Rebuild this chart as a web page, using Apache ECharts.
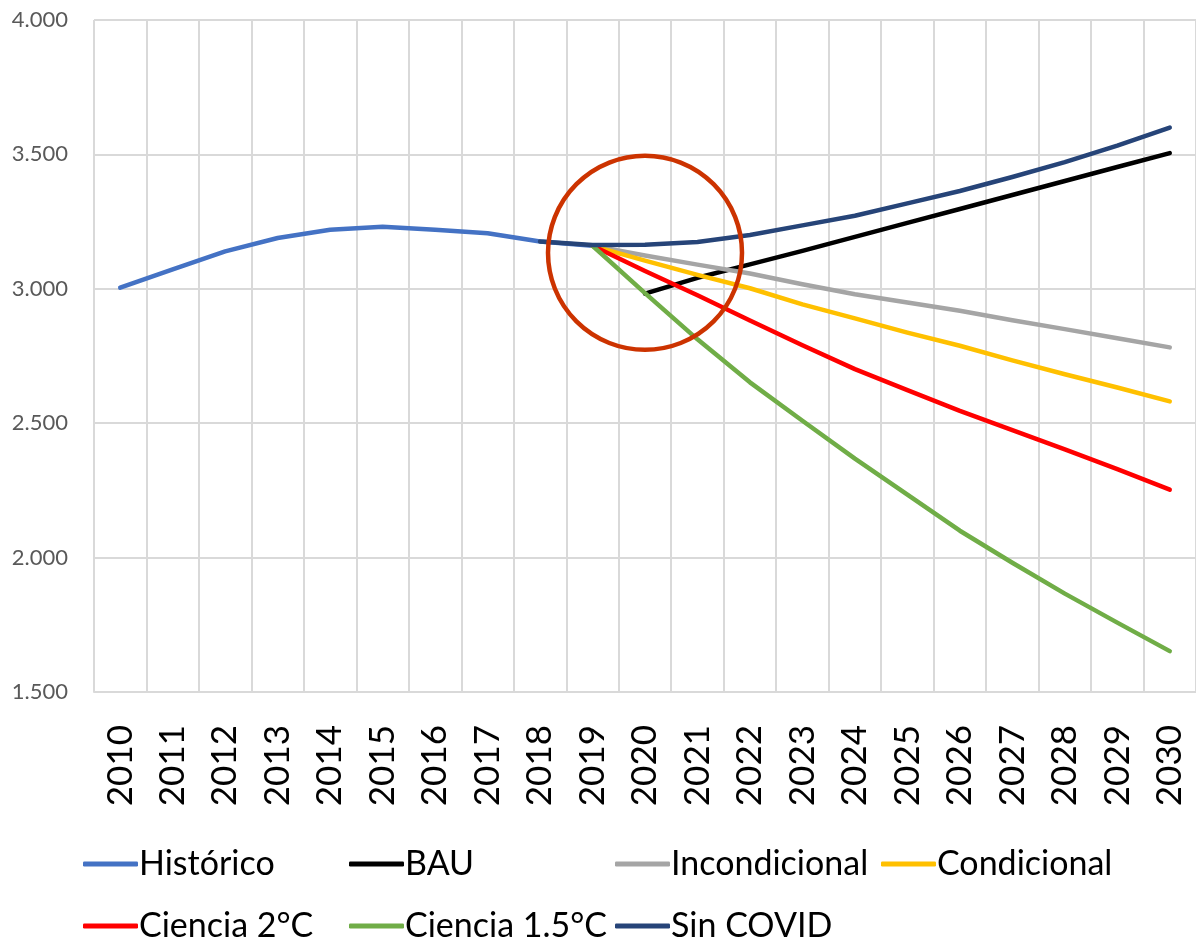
<!DOCTYPE html>
<html>
<head>
<meta charset="utf-8">
<script src="https://cdn.jsdelivr.net/npm/echarts@6/dist/echarts.min.js"></script>
<style>
  html, body { margin: 0; padding: 0; background: #fff; }
  #chart { width: 1196px; height: 940px; }
</style>
</head>
<body>
<div id="chart"></div>
<script>
// years on the x axis
const years = ['2010','2011','2012','2013','2014','2015','2016','2017','2018','2019','2020',
               '2021','2022','2023','2024','2025','2026','2027','2028','2029','2030'];
const _ = null;
// values
const historico     = [3004,3072,3139,3189,3220,3231,3220,3207,3176,3160,_,_,_,_,_,_,_,_,_,_,_];
const bau           = [_,_,_,_,_,_,_,_,_,_,2982,3041,3091,3141,3193,3245,3297,3349,3401,3453,3505];
const incondicional = [_,_,_,_,_,_,_,_,_,3160,3124,3090,3057,3017,2980,2949,2918,2883,2850,2816,2782];
const condicional   = [_,_,_,_,_,_,_,_,_,3160,3105,3052,3002,2942,2890,2837,2788,2734,2682,2633,2581];
const ciencia2      = [_,_,_,_,_,_,_,_,_,3160,3066,2976,2882,2790,2701,2623,2546,2474,2403,2329,2253];
const ciencia15     = [_,_,_,_,_,_,_,_,_,3160,2984,2812,2652,2509,2368,2234,2100,1981,1866,1758,1652];
const sinCovid      = [_,_,_,_,_,_,_,_,3176,3163,3164,3174,3200,3236,3272,3318,3364,3416,3471,3533,3600];

const names  = ['Histórico','BAU','Incondicional','Condicional','Ciencia 2°C','Ciencia 1.5°C','Sin COVID'];
const colors = ['#4472C4','#000000','#A5A5A5','#FFC000','#FF0000','#70AD47','#264478'];
const values = [historico, bau, incondicional, condicional, ciencia2, ciencia15, sinCovid];

const FONT = 'Lato, "Open Sans", sans-serif';

const chart = echarts.init(document.getElementById('chart'));

const option = {
  backgroundColor: '#fff',
  animation: false,
  grid: { left: 94, right: -11, top: 20, bottom: 248 },
  legend: {
    left: 78,
    top: 828,
    width: 1100,
    itemWidth: 55,
    itemHeight: 5,
    itemGap: 0,
    icon: 'roundRect',
    data: names,
    textStyle: {
      fontFamily: FONT,
      fontSize: 34,
      color: '#000',
      width: 210,
      lineHeight: 62,
      padding: [0, 0, 0, -4]
    }
  },
  xAxis: {
    type: 'category',
    data: years,
    boundaryGap: true,
    axisLine: { lineStyle: { color: '#D9D9D9', width: 2 } },
    axisTick: { show: false },
    splitLine: { show: true, lineStyle: { color: '#D9D9D9', width: 2 } },
    axisLabel: {
      rotate: 90,
      interval: 0,
      margin: 33,
      fontFamily: FONT,
      fontSize: 35,
      color: '#000'
    }
  },
  yAxis: {
    type: 'value',
    min: 1500,
    max: 4000,
    interval: 500,
    axisLine: { show: false },
    axisTick: { show: false },
    splitLine: { lineStyle: { color: '#D9D9D9', width: 2 } },
    axisLabel: {
      margin: 26,
      fontFamily: FONT,
      fontSize: 22,
      color: '#595959',
      formatter: v => v.toLocaleString('de-DE')
    }
  },
  series: names.map((n, i) => ({
    name: n,
    type: 'line',
    data: values[i],
    showSymbol: false,
    symbol: 'none',
    connectNulls: false,
    itemStyle: { color: colors[i] },
    lineStyle: { color: colors[i], width: 4.5, cap: 'round', join: 'round' },
    z: 2 + i
  }))
};

chart.setOption(option);

// annotation circle around the 2019-2020 break
const c = chart.convertToPixel({ gridIndex: 0 }, [9.93, 3134]);
chart.setOption({
  graphic: [{
    type: 'circle',
    shape: { cx: c[0], cy: c[1], r: 97 },
    style: { fill: null, stroke: '#CC3300', lineWidth: 4.5 },
    z: 100
  }]
});
</script>
</body>
</html>
